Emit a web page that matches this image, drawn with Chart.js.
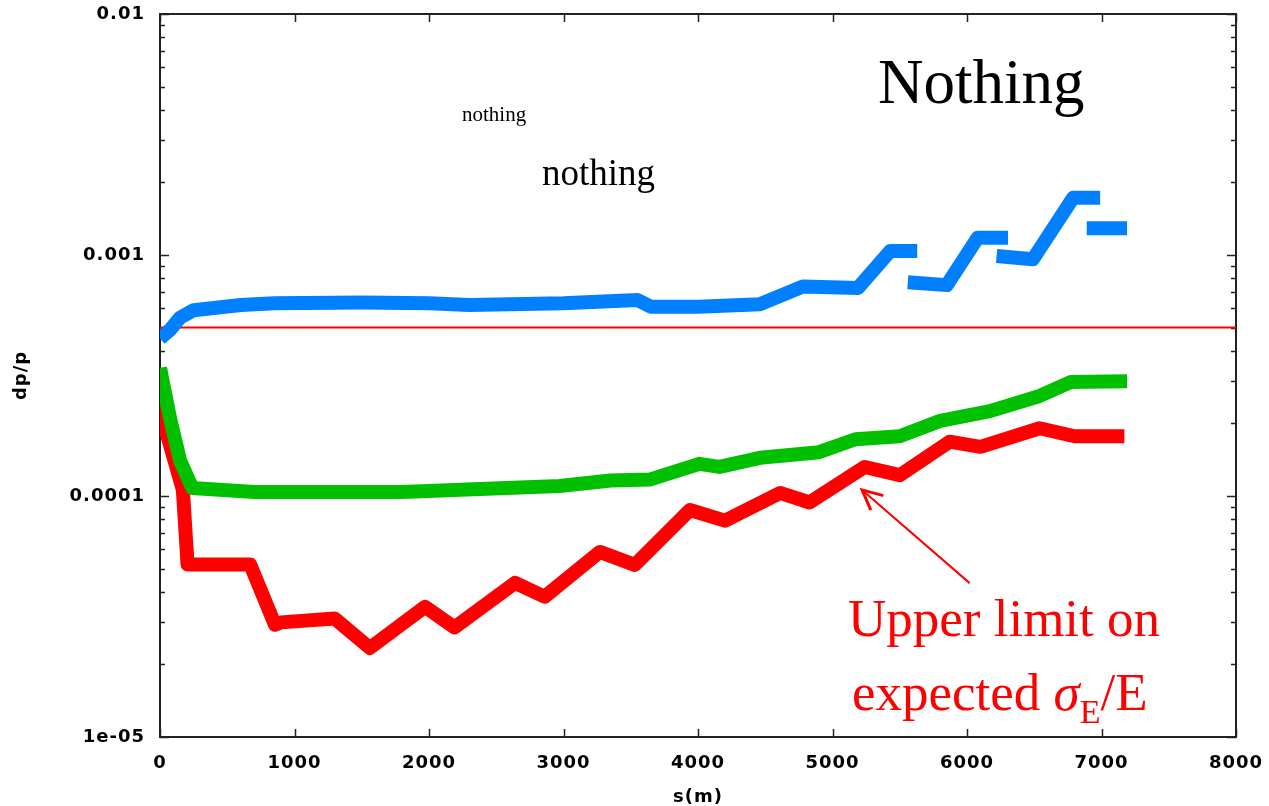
<!DOCTYPE html>
<html>
<head>
<meta charset="utf-8">
<script src="https://cdn.jsdelivr.net/npm/chart.js@4/dist/chart.umd.min.js"></script>
<style>
  html, body { margin: 0; padding: 0; background: #fff; }
  #wrap { width: 1269px; height: 806px; }
</style>
</head>
<body>
<div id="wrap"><canvas id="graphCanvas" width="1269" height="806"></canvas></div>
<script>
// s (m) positions and dp/p values, null = gap in the trace
const blueS  = [0, 75, 150, 250, 600, 850, 1500, 2000, 2300, 3000, 3550, 3650, 4000, 4460, 4780, 5190, 5430, 5630, 5600, 5560, 5850, 6080, 6305, 6260, 6220, 6490, 6790, 6990, 6940, 6890, 7190];
const blueDp = [4.5e-4, 4.9e-4, 5.5e-4, 5.9e-4, 6.2e-4, 6.3e-4, 6.35e-4, 6.3e-4, 6.2e-4, 6.3e-4, 6.5e-4, 6.1e-4, 6.1e-4, 6.25e-4, 7.4e-4, 7.3e-4, 1.04e-3, 1.04e-3, null, 7.7e-4, 7.5e-4, 1.18e-3, 1.18e-3, null, 9.9e-4, 9.6e-4, 1.73e-3, 1.73e-3, null, 1.29e-3, 1.29e-3];

const greenS  = [0, 75, 150, 240, 700, 1800, 2380, 2970, 3350, 3640, 4010, 4160, 4460, 4900, 5170, 5500, 5800, 6170, 6540, 6770, 7190];
const greenDp = [3.4e-4, 2.1e-4, 1.4e-4, 1.08e-4, 1.04e-4, 1.04e-4, 1.07e-4, 1.1e-4, 1.16e-4, 1.17e-4, 1.36e-4, 1.32e-4, 1.44e-4, 1.52e-4, 1.72e-4, 1.77e-4, 2.05e-4, 2.25e-4, 2.6e-4, 2.97e-4, 2.99e-4];

const redS  = [0, 40, 170, 205, 670, 855, 900, 1300, 1560, 1970, 2190, 2640, 2860, 3270, 3530, 3940, 4200, 4610, 4830, 5240, 5500, 5870, 6100, 6540, 6800, 7170];
const redDp = [3.4e-4, 1.9e-4, 1.06e-4, 5.2e-5, 5.2e-5, 2.92e-5, 2.99e-5, 3.1e-5, 2.34e-5, 3.47e-5, 2.85e-5, 4.36e-5, 3.82e-5, 5.86e-5, 5.18e-5, 8.75e-5, 7.9e-5, 1.03e-4, 9.4e-5, 1.32e-4, 1.22e-4, 1.68e-4, 1.6e-4, 1.91e-4, 1.77e-4, 1.77e-4];

const limitS  = [0, 8000];
const limitDp = [5e-4, 5e-4];

const xTickValues = [0, 1000, 2000, 3000, 4000, 5000, 6000, 7000, 8000];
const xTickLabels = ["0", "1000", "2000", "3000", "4000", "5000", "6000", "7000", "8000"];
const yTickValues = [1e-5, 1e-4, 1e-3, 1e-2];
const yTickLabels = ["1e-05", "0.0001", "0.001", "0.01"];

const toPoints = (xs, ys) => xs.map((x, i) => ({ x: x, y: ys[i] }));

const axisFont = { family: "'DejaVu Sans', sans-serif", size: 18, weight: "bold" };

// ticks drawn inward on all four sides, like the gnuplot frame
const frameTicks = {
  id: "frameTicks",
  beforeDraw(chart) {
    chart.ctx.letterSpacing = "1px";
  },
  beforeDatasetsDraw(chart) {
    const { ctx, chartArea: a, scales } = chart;
    ctx.letterSpacing = "0px";
    ctx.save();
    ctx.strokeStyle = "#222";
    ctx.lineWidth = 2;
    ctx.strokeRect(a.left, a.top, a.right - a.left, a.bottom - a.top);
    ctx.lineWidth = 1.5;
    ctx.beginPath();
    xTickValues.forEach((v) => {
      const px = Math.round(scales.x.getPixelForValue(v)) + 0.5;
      ctx.moveTo(px, a.bottom); ctx.lineTo(px, a.bottom - 8);
      ctx.moveTo(px, a.top); ctx.lineTo(px, a.top + 8);
    });
    for (let d = -5; d <= -2; d++) {
      for (let k = 1; k <= 9; k++) {
        const v = k * Math.pow(10, d);
        if (v > 1e-2 * 1.0001) continue;
        const py = Math.round(scales.y.getPixelForValue(v)) + 0.5;
        const len = k === 1 ? 9 : 5;
        ctx.moveTo(a.left, py); ctx.lineTo(a.left + len, py);
        ctx.moveTo(a.right, py); ctx.lineTo(a.right - len, py);
      }
    }
    ctx.stroke();
    ctx.restore();
  },
  afterDraw(chart) {
    const { ctx, scales } = chart;
    ctx.save();
    ctx.letterSpacing = "0px";
    ctx.textAlign = "left";
    ctx.textBaseline = "alphabetic";
    ctx.fillStyle = "#000";
    ctx.font = "63px 'Liberation Serif', serif";
    ctx.fillText("Nothing", 878, 103);
    ctx.font = "21px 'Liberation Serif', serif";
    ctx.fillText("nothing", 462, 121);
    ctx.font = "37px 'Liberation Serif', serif";
    ctx.fillText("nothing", 542, 185);

    // red annotation
    ctx.fillStyle = "#ff0000";
    ctx.font = "53px 'Liberation Serif', serif";
    ctx.fillText("Upper limit on", 848, 636);
    let x = 852;
    const base = 710;
    ctx.fillText("expected ", x, base);
    x += ctx.measureText("expected ").width;
    ctx.font = "italic 53px 'Liberation Serif', serif";
    ctx.fillText("\u03c3", x, base);
    x += ctx.measureText("\u03c3").width;
    ctx.font = "34px 'Liberation Serif', serif";
    ctx.fillText("E", x, base + 13);
    x += ctx.measureText("E").width;
    ctx.font = "53px 'Liberation Serif', serif";
    ctx.fillText("/E", x, base);

    // arrow pointing at the red trace
    const tx = scales.x.getPixelForValue(5220), ty = scales.y.getPixelForValue(1.06e-4);
    const fx = scales.x.getPixelForValue(6020), fy = scales.y.getPixelForValue(4.35e-5);
    const ang = Math.atan2(ty - fy, tx - fx);
    ctx.strokeStyle = "#ff0000";
    ctx.lineWidth = 2;
    ctx.beginPath();
    ctx.moveTo(fx, fy); ctx.lineTo(tx, ty);
    ctx.stroke();
    ctx.lineWidth = 3;
    ctx.beginPath();
    ctx.moveTo(tx + 22 * Math.cos(ang + Math.PI - 0.45), ty + 22 * Math.sin(ang + Math.PI - 0.45));
    ctx.lineTo(tx, ty);
    ctx.lineTo(tx + 22 * Math.cos(ang + Math.PI + 0.45), ty + 22 * Math.sin(ang + Math.PI + 0.45));
    ctx.stroke();
    ctx.restore();
  },
};

const traceStyle = (color) => ({
  borderColor: color,
  backgroundColor: color,
  borderWidth: 14,
  borderJoinStyle: "round",
  borderCapStyle: "butt",
  pointRadius: 0,
  fill: false,
  spanGaps: false,
  tension: 0,
});

new Chart(document.getElementById("graphCanvas"), {
  type: "line",
  data: {
    datasets: [
      { label: "blue", data: toPoints(blueS, blueDp), order: 1, ...traceStyle("#0080ff") },
      { label: "green", data: toPoints(greenS, greenDp), order: 2, ...traceStyle("#00c000") },
      { label: "red", data: toPoints(redS, redDp), order: 3, ...traceStyle("#ff0000") },
      {
        label: "limit",
        data: toPoints(limitS, limitDp),
        order: 10,
        borderColor: "#ff0000",
        borderWidth: 2,
        pointRadius: 0,
        fill: false,
      },
    ],
  },
  options: {
    responsive: false,
    devicePixelRatio: 1,
    animation: false,
    layout: { padding: { left: 0, top: 14, right: 33, bottom: 0 } },
    plugins: { legend: { display: false }, tooltip: { enabled: false } },
    scales: {
      x: {
        type: "linear",
        min: 0,
        max: 8000,
        afterBuildTicks: (scale) => { scale.ticks = xTickValues.map((v) => ({ value: v })); },
        afterFit: (scale) => {
          scale.height = 69;
          scale.paddingLeft = 0;
          scale.paddingRight = 0;
        },
        ticks: {
          color: "#000",
          font: axisFont,
          padding: 16,
          maxRotation: 0,
          autoSkip: false,
          callback: (v) => xTickLabels[xTickValues.indexOf(v)],
        },
        grid: { display: false, drawTicks: false },
        border: { display: false },
        title: { display: true, text: "s(m)", color: "#000", font: { ...axisFont, lineHeight: 1 }, padding: 0 },
      },
      y: {
        type: "logarithmic",
        min: 1e-5,
        max: 1e-2,
        afterBuildTicks: (scale) => { scale.ticks = yTickValues.map((v) => ({ value: v })); },
        afterFit: (scale) => {
          scale.width = 160;
          scale.paddingTop = 0;
          scale.paddingBottom = 0;
        },
        ticks: {
          color: "#000",
          font: axisFont,
          padding: 15,
          autoSkip: false,
          callback: (v) => yTickLabels[yTickValues.indexOf(v)],
        },
        grid: { display: false, drawTicks: false },
        border: { display: false },
        title: { display: true, text: "dp/p", color: "#000", font: { ...axisFont, lineHeight: 1 }, padding: { top: 12 } },
      },
    },
  },
  plugins: [frameTicks],
});
</script>
</body>
</html>
